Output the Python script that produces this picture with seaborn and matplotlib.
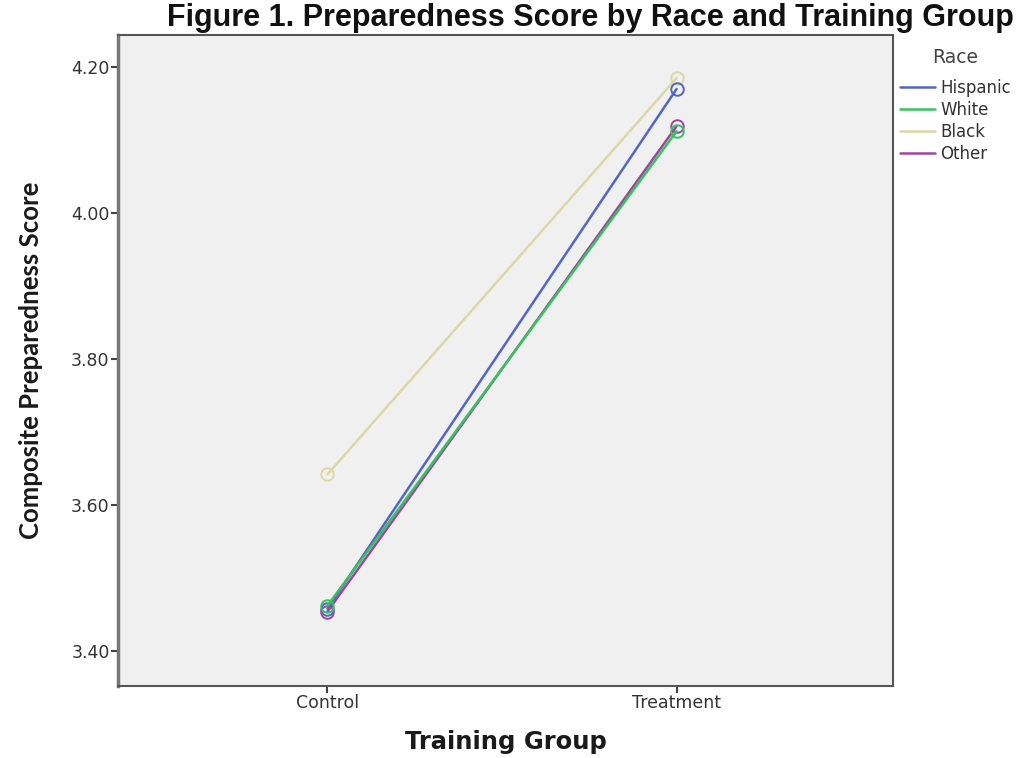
import matplotlib
matplotlib.use("Agg")
import matplotlib.pyplot as plt
from matplotlib.lines import Line2D
import seaborn as sns
import pandas as pd

groups = ["Control", "Treatment"]
races = ["Hispanic", "White", "Black", "Other"]
hispanic = [3.458, 4.170]
white = [3.462, 4.112]
black = [3.642, 4.185]
other = [3.454, 4.119]
palette = {"Hispanic": "#5066c8", "White": "#34c45e", "Black": "#dcd8a6", "Other": "#a044a2"}
yticks = [3.40, 3.60, 3.80, 4.00, 4.20]

rows = []
for race, vals in zip(races, [hispanic, white, black, other]):
    for g, v in zip(groups, vals):
        rows.append({"Training Group": g, "Race": race, "Score": v})
df = pd.DataFrame(rows)

sns.set_theme(style="white")
plt.rcParams["font.family"] = ["DejaVu Sans"]

fig = plt.figure(figsize=(10.2, 7.58), dpi=100)
ax = fig.add_axes([118 / 1020, 1 - 686 / 758, 775 / 1020, 651 / 758])
ax.set_facecolor("#f0f0f0")

# draw Black first so the other lines sit on top
order = ["Black", "Hispanic", "Other", "White"]
for race in order:
    sub = df[df["Race"] == race]
    sns.lineplot(data=sub, x="Training Group", y="Score", color=palette[race],
                 marker="o", markersize=9, markerfacecolor="none",
                 markeredgecolor=palette[race], markeredgewidth=1.4,
                 linewidth=1.8, ax=ax, legend=False)

ax.set_xlim(-0.60, 1.62)
ax.set_ylim(3.352, 4.244)
ax.set_yticks(yticks)
ax.set_yticklabels([f"{t:.2f}" for t in yticks])
ax.tick_params(axis="both", which="both", direction="out", length=5, width=1.5,
               colors="#444444", labelsize=12.5, left=True, bottom=True, pad=1)
for lab in ax.get_xticklabels() + ax.get_yticklabels():
    lab.set_color("#333333")

for side, sp in ax.spines.items():
    sp.set_visible(True)
    sp.set_color("#555555")
    sp.set_linewidth(1.5)
ax.spines["left"].set_linewidth(2.5)
ax.spines["left"].set_color("#777777")

ax.set_xlabel("Training Group", fontsize=17.5, fontweight="bold", color="#1a1a1a", labelpad=13)
ax.set_ylabel("Composite Preparedness Score", fontsize=18.5, fontweight="bold",
              color="#1a1a1a", labelpad=20, family=["Lato", "DejaVu Sans"])

fig.text(0.579, 0.976, "Figure 1. Preparedness Score by Race and Training Group",
         ha="center", va="center", fontsize=22, fontweight="bold", color="#111111",
         family=["Liberation Sans", "DejaVu Sans"])

handles = [Line2D([0], [0], color=palette[r], linewidth=1.8) for r in races]
leg = fig.legend(handles, races, title="Race", loc="upper left",
                 bbox_to_anchor=(0.868, 0.957), frameon=False, fontsize=12,
                 title_fontsize=13.5, handlelength=2.1, handletextpad=0.28,
                 labelspacing=0.24, labelcolor="#333333")
leg.get_title().set_color("#444444")
leg._legend_box.sep = 9

fig.savefig("out.png", dpi=100)
